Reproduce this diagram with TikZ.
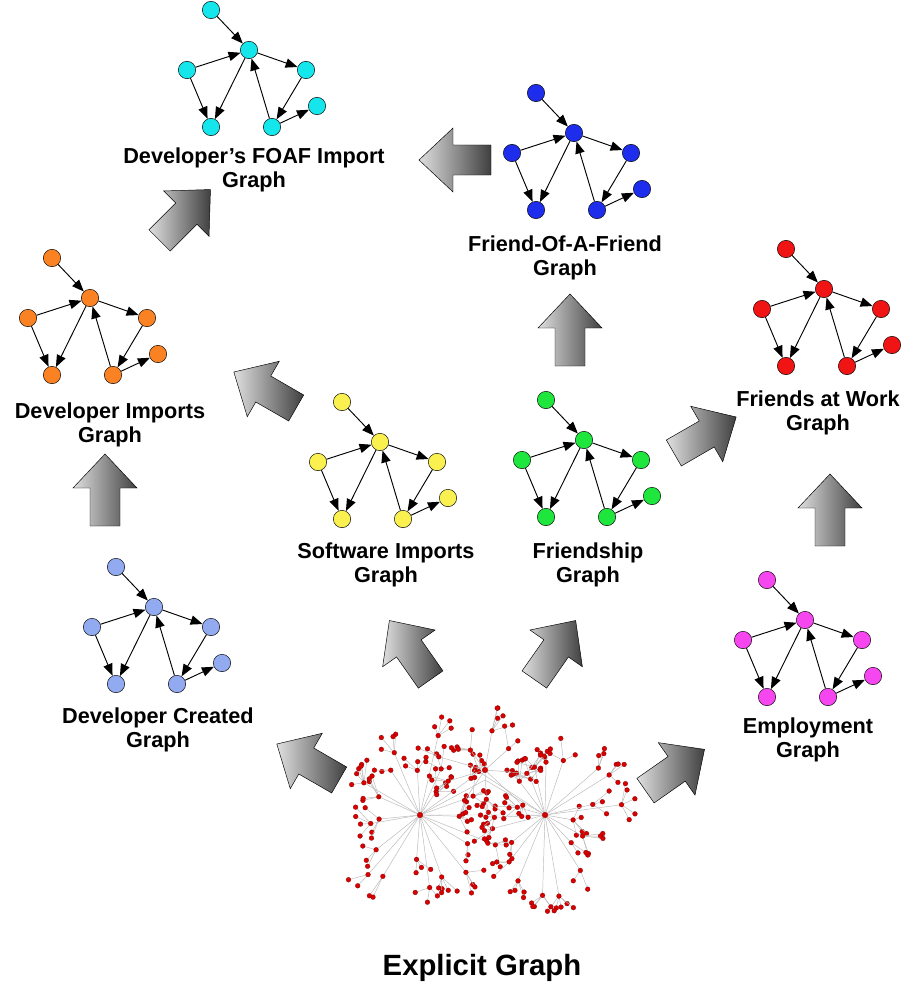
\documentclass[tikz,border=0pt]{standalone}
\usepackage{fontspec}
\setmainfont{Liberation Sans}
\usetikzlibrary{arrows.meta,positioning,calc}
\definecolor{cCyan}{RGB}{20,230,235}
\definecolor{cBlue}{RGB}{30,45,235}
\definecolor{cOrange}{RGB}{250,130,35}
\definecolor{cRed}{RGB}{240,20,20}
\definecolor{cYellow}{RGB}{250,240,80}
\definecolor{cGreen}{RGB}{30,230,60}
\definecolor{cLight}{RGB}{145,170,240}
\definecolor{cMagenta}{RGB}{245,70,240}
\tikzset{
  vert/.style={circle,draw=black,thin,minimum size=0.52cm,inner sep=0pt},
  edge/.style={-{Triangle[length=3.6mm,width=2.8mm]},thick},
  title/.style={font=\bfseries\fontsize{18.5}{21}\selectfont,align=center},
  tree/.style={gray!55,line width=0.4pt},
  dot/.style={fill=red!85!black,draw=red!50!black,line width=0.2pt}
}
% one small motif graph, hub at (#2,#3)
\newcommand{\motif}[4]{%
  \node[vert,fill=#4] (#1-hub) at (#2,#3) {};
  \node[vert,fill=#4] (#1-top) at ($(#1-hub)+(-38,-40)$) {};
  \node[vert,fill=#4] (#1-left) at ($(#1-hub)+(-62,20)$) {};
  \node[vert,fill=#4] (#1-right) at ($(#1-hub)+(57,20)$) {};
  \node[vert,fill=#4] (#1-bl) at ($(#1-hub)+(-38,77)$) {};
  \node[vert,fill=#4] (#1-br) at ($(#1-hub)+(23,77)$) {};
  \node[vert,fill=#4] (#1-end) at ($(#1-hub)+(68,56)$) {};
  \draw[edge] (#1-top) -- (#1-hub);
  \draw[edge] (#1-left) -- (#1-hub);
  \draw[edge] (#1-hub) -- (#1-right);
  \draw[edge] (#1-left) -- (#1-bl);
  \draw[edge] (#1-hub) -- (#1-bl);
  \draw[edge] (#1-br) -- (#1-hub);
  \draw[edge] (#1-right) -- (#1-br);
  \draw[edge] (#1-br) -- (#1-end);
}
% big grey block arrow at (#1,#2) pointing to angle #3
\newcommand{\bigarrow}[3]{%
  \begin{scope}[shift={(#1,#2)},rotate=#3]
    \shade[left color=gray!25,right color=black!75,draw=black,thin]
      (-36,-15) -- (2,-15) -- (2,-32) -- (36,0) -- (2,32) -- (2,15) -- (-36,15) -- cycle;
  \end{scope}
}
\begin{document}
\begin{tikzpicture}[x=0.03cm,y=-0.03cm]
  \useasboundingbox (0,0) rectangle (923,986);

  \motif{foaf}{249}{50}{cCyan}
  \motif{fof}{574}{133}{cBlue}
  \motif{devimp}{90}{298}{cOrange}
  \motif{work}{824}{289}{cRed}
  \motif{soft}{380}{442}{cYellow}
  \motif{friend}{584}{440}{cGreen}
  \motif{devcr}{154}{607}{cLight}
  \motif{employ}{805}{620}{cMagenta}

  \node[title] (foafl) at (254,170) {Developer's FOAF Import\\Graph};
  \node[title] (fofl) at (565,258) {Friend-Of-A-Friend\\Graph};
  \node[title] (devimpl) at (110,425) {Developer Imports\\Graph};
  \node[title] (workl) at (818,413) {Friends at Work\\Graph};
  \node[title] (softl) at (386,565) {Software Imports\\Graph};
  \node[title] (friendl) at (588,565) {Friendship\\Graph};
  \node[title] (devcrl) at (158,730) {Developer Created\\Graph};
  \node[title] (employl) at (808,740) {Employment\\Graph};
  \node[title,font=\bfseries\fontsize{25}{28}\selectfont] (explicit) at (482,968) {Explicit Graph};

  % block arrows
  \bigarrow{455}{160}{180}
  \bigarrow{185}{215}{45}
  \bigarrow{570}{330}{90}
  \bigarrow{265}{390}{150}
  \bigarrow{105}{490}{90}
  \bigarrow{705}{435}{30}
  \bigarrow{830}{510}{90}
  \bigarrow{410}{650}{125}
  \bigarrow{555}{650}{55}
  \bigarrow{308}{762}{150}
  \bigarrow{675}{770}{35}

  % explicit graph
  \pgfmathsetseed{11}
  \draw[tree] (420,815) -- (485,780) -- (545,815) -- (420,815);
  \foreach \hx/\hy/\n/\rad in {420/815/22/70, 545/815/22/70, 485/770/9/45} {
    \foreach \i in {1,...,\n} {
      \pgfmathsetmacro{\ang}{\i*360/\n+rand*8}
      \pgfmathsetmacro{\rr}{\rad*(0.4+rnd*0.8)}
      \coordinate (s) at ($(\hx,\hy)+(\ang:\rr)$);
      \draw[tree] (\hx,\hy) -- (s);
      \pgfmathtruncatemacro{\kids}{2+rnd*5}
      \foreach \k in {1,...,\kids} {
        \pgfmathsetmacro{\bang}{\ang+rand*70}
        \coordinate (l) at ($(s)+(\bang:8+rnd*16)$);
        \draw[tree] (s) -- (l);
        \fill[dot] (l) circle (2.4);
      }
      \fill[dot] (s) circle (2.4);
    }
    \fill[dot] (\hx,\hy) circle (2.8);
  }
\end{tikzpicture}
\end{document}
